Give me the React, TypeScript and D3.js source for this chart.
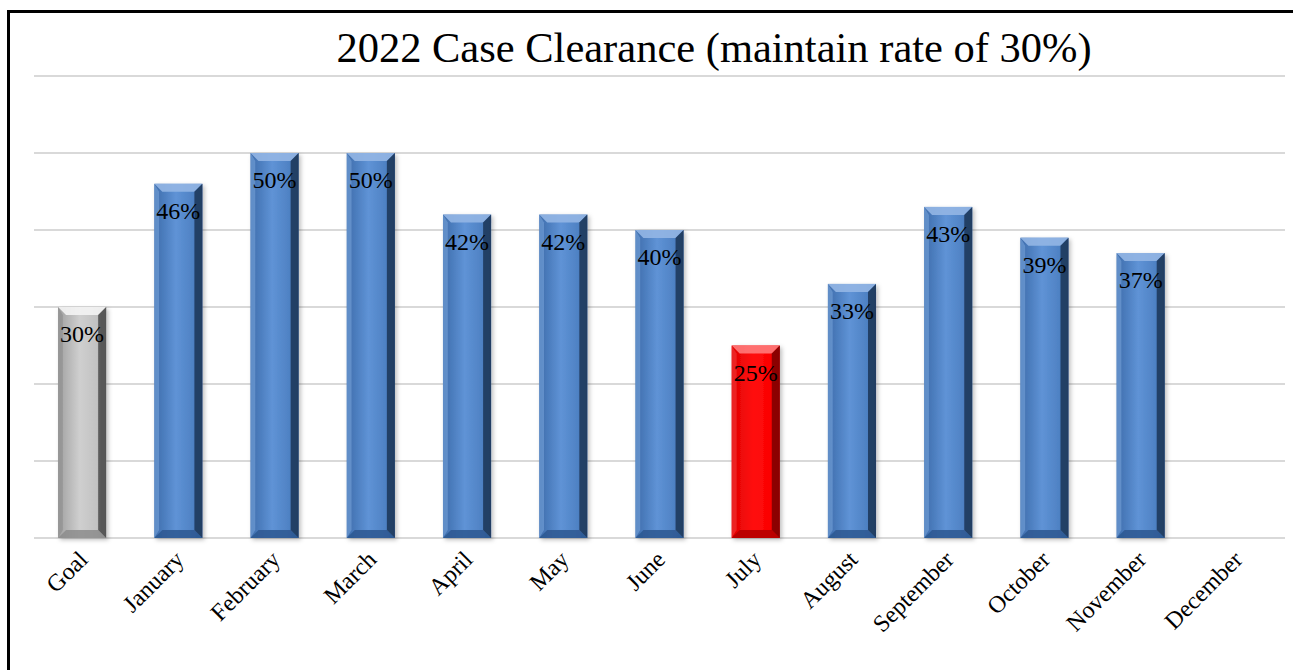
import * as d3 from "d3";
import { useEffect, useRef } from "react";

const categories = ["Goal", "January", "February", "March", "April", "May", "June", "July", "August", "September", "October", "November", "December"];
const values: (number | null)[] = [30, 46, 50, 50, 42, 42, 40, 25, 33, 43, 39, 37, null];
const gridTicks = [0, 10, 20, 30, 40, 50, 60];
const title = "2022 Case Clearance (maintain rate of 30%)";

const W = 1293;
const H = 670;

// colour sets for the bevelled bars
const palettes: Record<string, { edge: string; mid: string; light: string; right: string; top: string; bottom: string; left: string }> = {
  blue: { edge: "#3d6cab", mid: "#4f82c4", light: "#5f93d6", right: "#1d3657", top: "#93b6e4", bottom: "#2c5791", left: "#6f9bd3" },
  gray: { edge: "#a0a0a0", mid: "#c2c2c2", light: "#cfcfcf", right: "#4a4a4a", top: "#f4f4f4", bottom: "#8c8c8c", left: "#909090" },
  red: { edge: "#e00000", mid: "#fb0000", light: "#ff1010", right: "#7a0000", top: "#ff7a7a", bottom: "#b20000", left: "#f03030" },
};

const FONT = "'Liberation Serif', 'Times New Roman', serif";

const App = () => {
  const ref = useRef<SVGSVGElement>(null);

  useEffect(() => {
    const svg = d3.select(ref.current);
    svg.selectAll("*").remove();

    const x = d3.scaleBand().domain(categories).range([34, 1285]).paddingInner(0.5).paddingOuter(0.25);
    const y = d3.scaleLinear().domain([0, 60]).range([538, 76]);

    const defs = svg.append("defs");
    Object.entries(palettes).forEach(([k, p]) => {
      const g = defs.append("linearGradient").attr("id", "body-" + k).attr("x1", "0").attr("x2", "1").attr("y1", "0").attr("y2", "0");
      g.append("stop").attr("offset", "0%").attr("stop-color", p.edge);
      g.append("stop").attr("offset", "45%").attr("stop-color", p.light);
      g.append("stop").attr("offset", "80%").attr("stop-color", p.mid);
      g.append("stop").attr("offset", "100%").attr("stop-color", p.edge);
    });
    const f = defs.append("filter").attr("id", "shadow").attr("x", "-20%").attr("y", "-5%").attr("width", "150%").attr("height", "115%");
    f.append("feDropShadow").attr("dx", 2).attr("dy", 2).attr("stdDeviation", 2).attr("flood-color", "#000").attr("flood-opacity", 0.25);

    svg.append("rect").attr("width", W).attr("height", H).attr("fill", "#fff");

    // gridlines
    svg.append("g").selectAll("line").data(gridTicks).enter().append("line")
      .attr("x1", 34).attr("x2", 1285)
      .attr("y1", d => y(d)).attr("y2", d => y(d))
      .attr("stroke", "#d9d9d9").attr("stroke-width", 2);

    svg.append("text")
      .attr("x", 714).attr("y", 62)
      .attr("text-anchor", "middle")
      .attr("font-family", FONT)
      .attr("font-size", 42.5)
      .text(title);

    const data = categories.map((c, i) => ({ c, v: values[i], i })).filter(d => d.v !== null) as { c: string; v: number; i: number }[];
    const paletteOf = (d: { c: string; v: number }) => (d.c === "Goal" ? "gray" : d.c === "July" ? "red" : "blue");
    const b = 8;

    const bars = svg.append("g").selectAll("g").data(data).enter().append("g").attr("filter", "url(#shadow)");
    bars.each(function (d) {
      const g = d3.select(this);
      const p = palettes[paletteOf(d)];
      const x0 = x(d.c)!;
      const w = x.bandwidth();
      const y0 = y(d.v);
      const y1 = y(0);
      g.append("rect").attr("x", x0).attr("y", y0).attr("width", w).attr("height", y1 - y0).attr("fill", `url(#body-${paletteOf(d)})`);
      const poly = (pts: [number, number][], fill: string, op: number) =>
        g.append("polygon").attr("points", pts.map(q => q.join(",")).join(" ")).attr("fill", fill).attr("opacity", op);
      poly([[x0, y0], [x0 + w, y0], [x0 + w - b, y0 + b], [x0 + b, y0 + b]], p.top, 0.9);
      poly([[x0, y1], [x0 + w, y1], [x0 + w - b, y1 - b], [x0 + b, y1 - b]], p.bottom, 0.85);
      poly([[x0, y0], [x0 + b * 0.6, y0 + b], [x0 + b * 0.6, y1 - b], [x0, y1]], p.left, 0.7);
      poly([[x0 + w, y0], [x0 + w - b, y0 + b], [x0 + w - b, y1 - b], [x0 + w, y1]], p.right, 0.85);
    });

    // value labels
    svg.append("g").selectAll("text").data(data).enter().append("text")
      .attr("x", d => x(d.c)! + x.bandwidth() / 2)
      .attr("y", d => y(d.v) + 35)
      .attr("text-anchor", "middle")
      .attr("font-family", FONT)
      .attr("font-size", 24)
      .attr("fill", "#000")
      .text(d => d.v + "%");

    // category labels
    svg.append("g").selectAll("text").data(categories).enter().append("text")
      .attr("transform", c => `translate(${x(c)! + x.bandwidth() / 2 + 7},561) rotate(-45)`)
      .attr("text-anchor", "end")
      .attr("font-family", FONT)
      .attr("font-size", 24)
      .text(c => c);

    // outer frame (partly cut off at right and bottom)
    svg.append("rect")
      .attr("x", 8.5).attr("y", 11.5).attr("width", 1320).attr("height", 700)
      .attr("fill", "none").attr("stroke", "#000").attr("stroke-width", 3);
  }, []);

  return <svg ref={ref} width={W} height={H} style={{ position: "absolute", left: 0, top: 0 }} />;
};

export default App;
